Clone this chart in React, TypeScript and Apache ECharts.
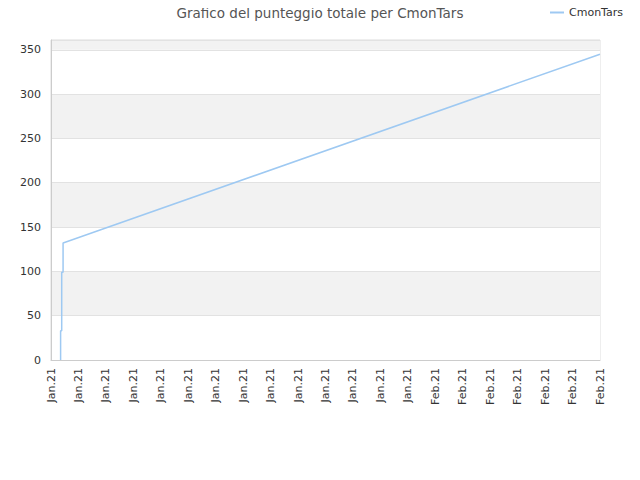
import React, { useEffect, useRef } from 'react';
import * as echarts from 'echarts';

const xLabels = [
  'Jan.21', 'Jan.21', 'Jan.21', 'Jan.21', 'Jan.21', 'Jan.21', 'Jan.21',
  'Jan.21', 'Jan.21', 'Jan.21', 'Jan.21', 'Jan.21', 'Jan.21', 'Jan.21',
  'Feb.21', 'Feb.21', 'Feb.21', 'Feb.21', 'Feb.21', 'Feb.21', 'Feb.21',
];
// position along the x axis (label index) and total score
const xPos = [0.35, 0.35, 0.39, 0.39, 0.44, 0.44, 20];
const scores = [0, 33, 33, 99, 99, 132, 345];

const FONT = 'DejaVu Sans';

export default function App() {
  const chartRef = useRef<HTMLDivElement>(null);

  useEffect(() => {
    if (!chartRef.current) return;
    const chart = echarts.init(chartRef.current, undefined, { renderer: 'svg' });

    const option: echarts.EChartsOption = {
      animation: false,
      backgroundColor: '#fff',
      textStyle: { fontFamily: FONT },
      title: {
        text: 'Grafico del punteggio totale per CmonTars',
        left: 'center',
        top: 1,
        textStyle: { fontFamily: FONT, fontSize: 13.5, fontWeight: 'normal', color: '#555' },
      },
      legend: {
        right: 12,
        top: 2,
        itemWidth: 14,
        itemHeight: 2,
        icon: 'rect',
        textStyle: { fontFamily: FONT, fontSize: 11, color: '#333' },
        data: ['CmonTars'],
      },
      grid: { left: 51, right: 40, top: 40, bottom: 120, show: true, borderColor: '#ddd', borderWidth: 1 },
      xAxis: {
        type: 'value',
        min: 0,
        max: xLabels.length - 1,
        interval: 1,
        axisLine: { show: true, lineStyle: { color: '#ccc' } },
        axisTick: { show: false },
        splitLine: { show: false },
        axisLabel: {
          rotate: 90,
          fontSize: 11,
          color: '#333',
          margin: 8,
          formatter: (v: number) => xLabels[Math.round(v)] ?? '',
        },
      },
      yAxis: {
        type: 'value',
        min: 0,
        max: 361,
        interval: 50,
        axisLine: { show: true, lineStyle: { color: '#ccc' } },
        axisTick: { show: false },
        axisLabel: {
          fontSize: 11,
          color: '#333',
          margin: 10,
          formatter: (v: number) => (v % 50 === 0 ? String(v) : ''),
        },
        splitLine: { show: true, lineStyle: { color: '#e2e2e2' } },
        splitArea: { show: true, areaStyle: { color: ['#ffffff', '#f2f2f2'] } },
      },
      series: [
        {
          name: 'CmonTars',
          type: 'line',
          data: xPos.map((x, i) => [x, scores[i]]),
          showSymbol: false,
          symbol: 'none',
          color: '#9ec9f2',
          lineStyle: { width: 1.5, color: '#9ec9f2' },
        },
      ],
    };

    chart.setOption(option);
    return () => chart.dispose();
  }, []);

  return <div ref={chartRef} style={{ width: 640, height: 480, margin: -8 }} />;
}
